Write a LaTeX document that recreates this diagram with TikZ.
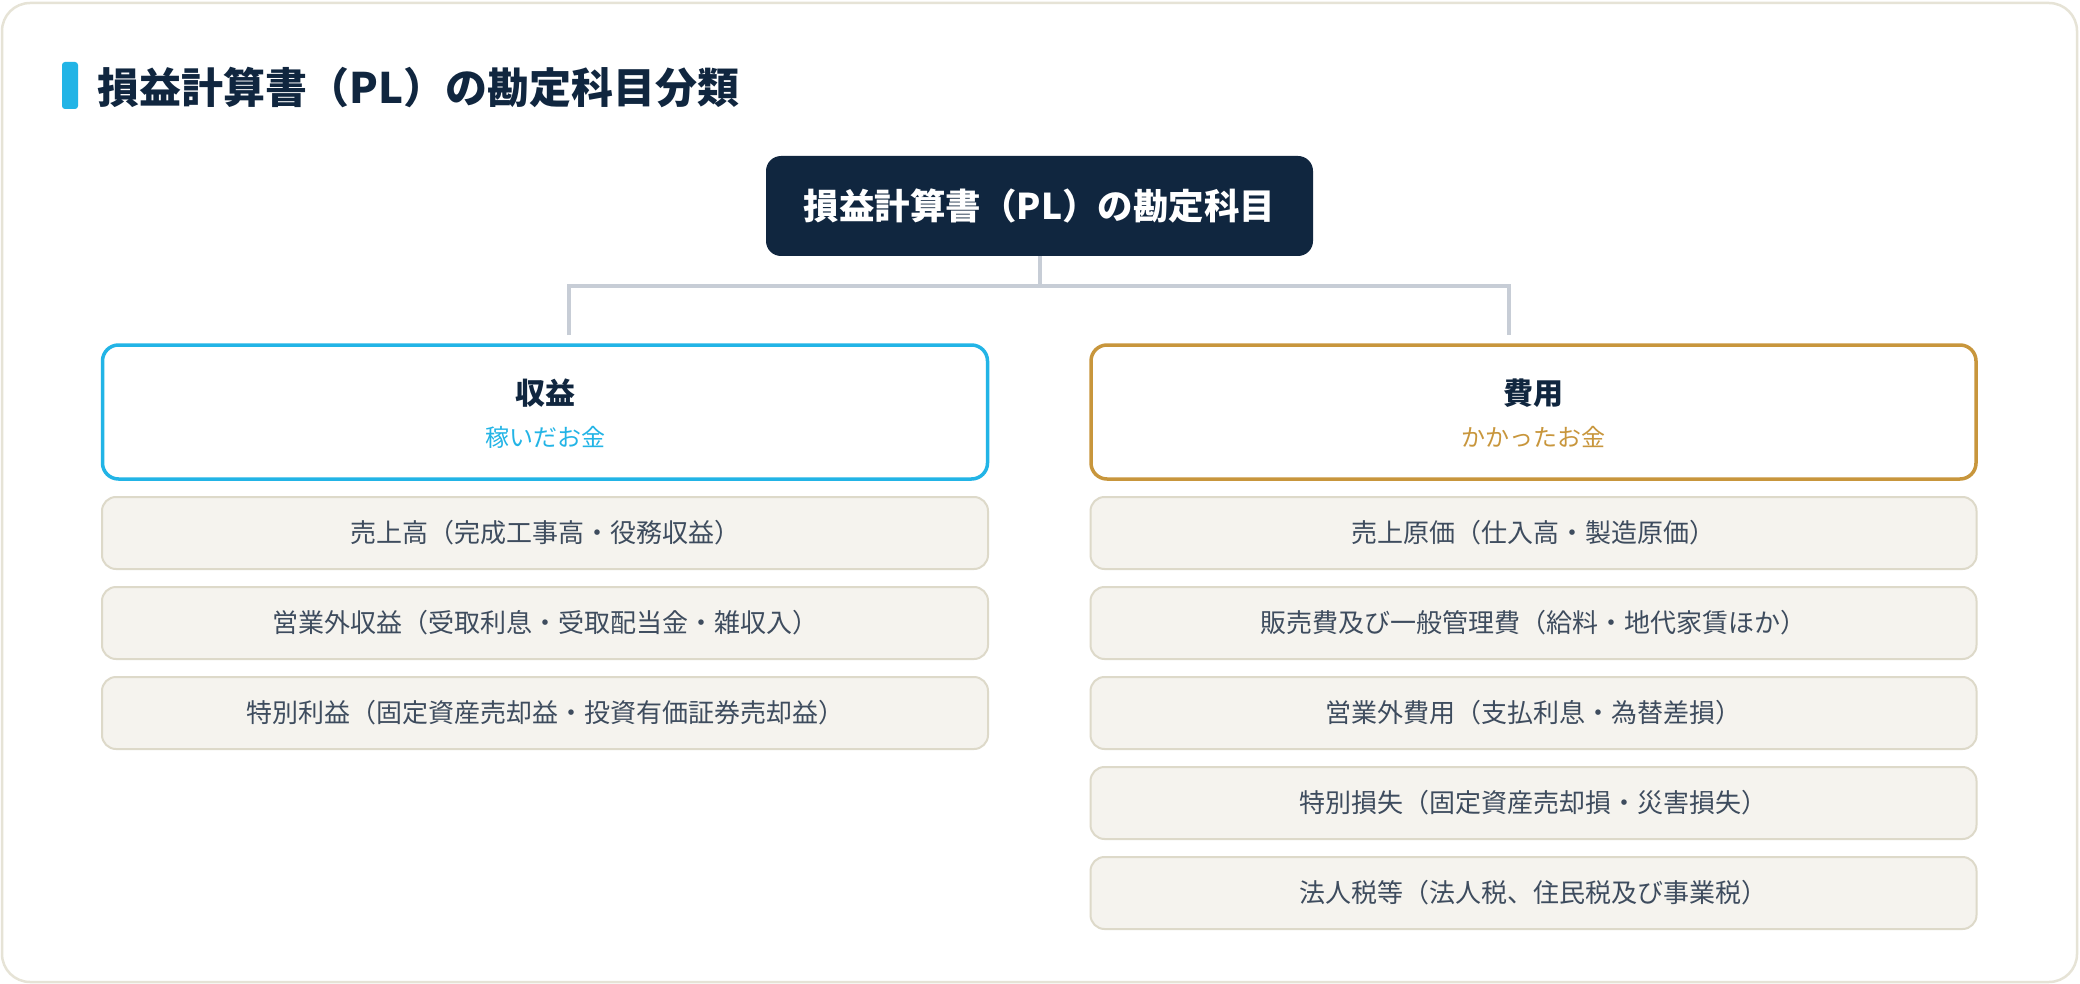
\documentclass[tikz,border=0pt]{standalone}
\usepackage{fontspec}
\setmainfont{Noto Sans CJK JP}
\usepackage{xcolor}
\usepackage{tikz}
\usetikzlibrary{positioning}
\definecolor{navy}{HTML}{10263F}
\definecolor{cyanc}{HTML}{22B4E6}
\definecolor{goldc}{HTML}{C8963C}
\definecolor{edge}{HTML}{E6E3D6}
\definecolor{itembg}{HTML}{F5F3EE}
\definecolor{itemedge}{HTML}{DDD9C9}
\definecolor{itemtext}{HTML}{3E4C5E}
\definecolor{linegray}{HTML}{C7CDD6}
\tikzset{
  frame/.style={draw=edge, fill=white, line width=2.5pt, rounded corners=28pt},
  accent/.style={fill=cyanc, rounded corners=3pt},
  ttl/.style={text=navy, inner sep=0pt, anchor=west, font=\fontsize{42}{48}\selectfont\bfseries},
  rootbox/.style={fill=navy, text=white, rounded corners=15pt, minimum width=547pt, minimum height=100pt, font=\fontsize{35.5}{40}\selectfont\bfseries},
  head/.style={draw=#1, fill=white, line width=3.5pt, outer sep=0pt, rounded corners=16pt, minimum width=885pt, minimum height=134pt},
  headlab/.style={text=navy, inner sep=0pt, font=\fontsize{30}{36}\selectfont\bfseries},
  headsub/.style={text=#1, inner sep=0pt, font=\fontsize{24}{28}\selectfont},
  item/.style={draw=itemedge, fill=itembg, line width=2pt, outer sep=0pt, rounded corners=14pt, minimum width=886pt, minimum height=72pt, text=itemtext, font=\fontsize{26}{30}\selectfont},
  wire/.style={draw=linegray, line width=4pt},
}
\begin{document}
\begin{tikzpicture}[x=1pt, y=-1pt]
  \useasboundingbox (0,0) rectangle (2080,984);
  \draw[frame] (2,3) rectangle (2077,982);
  \fill[accent] (62,62) rectangle (78,109);
  \node[ttl] (title) at (97,88) {損益計算書（PL）の勘定科目分類};

  \node[rootbox] (root) at (1039.5,206) {損益計算書（PL）の勘定科目};
  \coordinate (bus) at (1039.5,286);
  \coordinate (jL) at (569,335);
  \coordinate (jR) at (1509,335);
  \draw[wire] (root.south) -- (bus);
  \draw[wire] (jL) |- (bus) -| (jR);

  \node[head=cyanc] (rev) at (545,412) {};
  \node[headlab] (revT) at ([yshift=19pt]rev.center) {収益};
  \node[headsub=cyanc] (revS) at ([yshift=-25pt]rev.center) {稼いだお金};
  \node[head=goldc] (exp) at (1533.5,412) {};
  \node[headlab] (expT) at ([yshift=19pt]exp.center) {費用};
  \node[headsub=goldc] (expS) at ([yshift=-25pt]exp.center) {かかったお金};

  \node[item, below=18pt of rev] (rev1) {売上高（完成工事高・役務収益）};
  \node[item, below=18pt of rev1] (rev2) {営業外収益（受取利息・受取配当金・雑収入）};
  \node[item, below=18pt of rev2] (rev3) {特別利益（固定資産売却益・投資有価証券売却益）};

  \node[item, below=18pt of exp] (exp1) {売上原価（仕入高・製造原価）};
  \node[item, below=18pt of exp1] (exp2) {販売費及び一般管理費（給料・地代家賃ほか）};
  \node[item, below=18pt of exp2] (exp3) {営業外費用（支払利息・為替差損）};
  \node[item, below=18pt of exp3] (exp4) {特別損失（固定資産売却損・災害損失）};
  \node[item, below=18pt of exp4] (exp5) {法人税等（法人税、住民税及び事業税）};
\end{tikzpicture}
\end{document}
